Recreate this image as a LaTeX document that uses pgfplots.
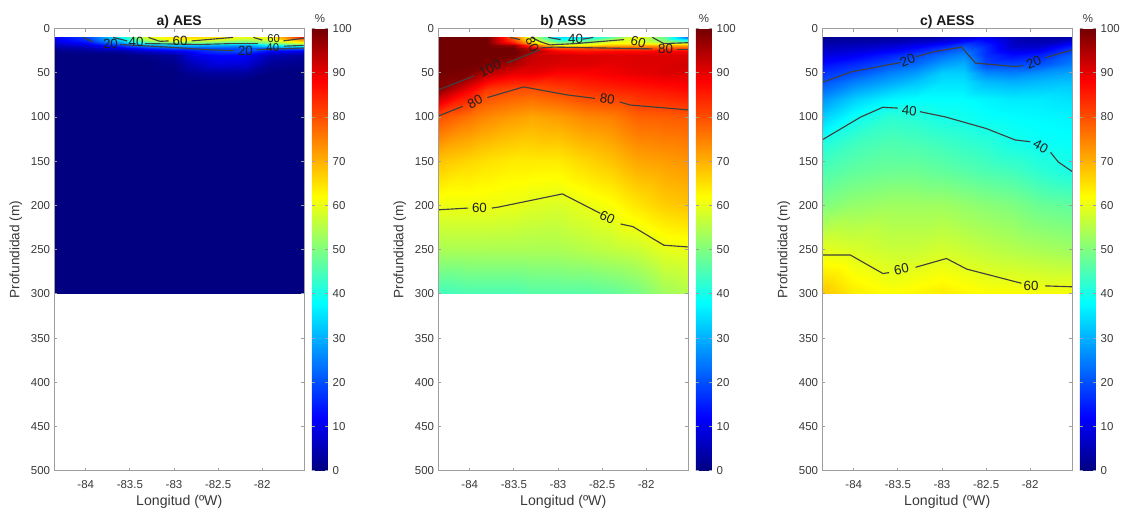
\documentclass[border=0pt]{standalone}
\usepackage{pgfplots}
\pgfplotsset{compat=1.18}
\usepackage{fontspec}
\setmainfont{Liberation Sans}
\definecolor{txt}{gray}{0.22}
\definecolor{frm}{gray}{0.62}
\tikzset{cl/.style={font=\fontsize{10}{11}\selectfont, text=black!88, inner sep=0pt}}
\pgfplotsset{
  colormap={jetx}{rgb(0pt)=(0,0,.5) rgb(12pt)=(0,0,1) rgb(38pt)=(0,1,1) rgb(62pt)=(1,1,0) rgb(88pt)=(1,0,0) rgb(100pt)=(.45,0,0)},
  panel/.style={
    scale only axis, width=187.9pt, height=331.65pt,
    xmin=-84.36, xmax=-81.52, ymin=0, ymax=500, y dir=reverse,
    xtick={-84,-83.5,-83,-82.5,-82}, xticklabels={-84,-83.5,-83,-82.5,-82},
    ytick={0,50,...,500},
    /pgf/number format/assume math mode=true,
    tick label style={font=\fontsize{8.6}{10}\selectfont, text=txt},
    xticklabel style={yshift=-3.6pt},
    yticklabel style={xshift=0.6pt},
    axis line style={draw=frm, line width=.7pt},
    every tick/.style={frm, line width=.6pt},
    major tick length=2.4pt,
    axis on top,
    point meta min=0, point meta max=100,
    xlabel={Longitud (ºW)}, ylabel={Profundidad (m)},
    every axis x label/.style={at={(axis description cs:0.5,-0.07)},anchor=center,font=\fontsize{10.6}{12}\selectfont,text=txt},
    every axis y label/.style={at={(axis description cs:-0.152,0.5)},anchor=center,rotate=90,font=\fontsize{10.2}{12}\selectfont,text=txt},
    every axis title/.style={at={(axis description cs:0.5,1.016)},anchor=center,font=\fontsize{10.5}{12}\selectfont\bfseries,text=black!90},
    colorbar,
    colorbar shift/.style={xshift=5.2pt},
    colorbar style={
      width=12pt, ytick={0,10,...,100}, yticklabel pos=right,
      ymin=0, ymax=100, y dir=normal,
      title={\%},
      every axis title/.style={at={(axis description cs:0.5,1.023)},anchor=center,font=\fontsize{8.6}{10}\selectfont,text=txt},
      axis line style={draw=none},
      every tick/.style={frm, line width=.6pt},
      major tick length=2.4pt,
      tick label style={font=\fontsize{8.6}{10}\selectfont, text=txt},
      /pgf/number format/assume math mode=true,
    },
  },
  ct/.style={no marks, line width=.85pt, draw=black!75, line join=round},
}
\begin{document}
\begin{tikzpicture}
\useasboundingbox (0,0) rectangle (842.25pt,383.25pt);

% ---------- a) AES
\begin{axis}[panel, at={(40.5pt,30.2pt)}, anchor=south west, title={a) AES}]
\addplot[surf, shader=interp, mesh/cols=10, point meta=explicit] coordinates {
(-84.36,10)[12] (-84,10)[18] (-83.6,10)[38] (-83.3,10)[60] (-83,10)[64] (-82.75,10)[66] (-82.5,10)[64] (-82.2,10)[60] (-81.9,10)[62] (-81.52,10)[88]
(-84.36,13)[10] (-84,13)[16] (-83.6,13)[34] (-83.3,13)[55] (-83,13)[62] (-82.75,13)[60] (-82.5,13)[58] (-82.2,13)[54] (-81.9,13)[58] (-81.52,13)[72]
(-84.36,16)[8] (-84,16)[12] (-83.6,16)[26] (-83.3,16)[42] (-83,16)[47] (-82.75,16)[48] (-82.5,16)[46] (-82.2,16)[44] (-81.9,16)[50] (-81.52,16)[60]
(-84.36,19)[6] (-84,19)[8] (-83.6,19)[18] (-83.3,19)[28] (-83,19)[32] (-82.75,19)[32] (-82.5,19)[30] (-82.2,19)[28] (-81.9,19)[38] (-81.52,19)[44]
(-84.36,22)[3] (-84,22)[4] (-83.6,22)[10] (-83.3,22)[16] (-83,22)[20] (-82.75,22)[20] (-82.5,22)[20] (-82.2,22)[20] (-81.9,22)[22] (-81.52,22)[22]
(-84.36,25)[1] (-84,25)[2] (-83.6,25)[3] (-83.3,25)[7] (-83,25)[10] (-82.75,25)[14] (-82.5,25)[18] (-82.2,25)[20] (-81.9,25)[12] (-81.52,25)[10]
(-84.36,30)[0] (-84,30)[0] (-83.6,30)[0] (-83.3,30)[1] (-83,30)[3] (-82.75,30)[10] (-82.5,30)[12] (-82.2,30)[12] (-81.9,30)[5] (-81.52,30)[3]
(-84.36,40)[0] (-84,40)[0] (-83.6,40)[0] (-83.3,40)[0] (-83,40)[1] (-82.75,40)[6] (-82.5,40)[9] (-82.2,40)[8] (-81.9,40)[2] (-81.52,40)[1]
(-84.36,50)[0] (-84,50)[0] (-83.6,50)[0] (-83.3,50)[0] (-83,50)[0] (-82.75,50)[2] (-82.5,50)[3] (-82.2,50)[3] (-81.9,50)[0] (-81.52,50)[0]
(-84.36,60)[0] (-84,60)[0] (-83.6,60)[0] (-83.3,60)[0] (-83,60)[0] (-82.75,60)[0] (-82.5,60)[0] (-82.2,60)[0] (-81.9,60)[0] (-81.52,60)[0]
(-84.36,300)[0] (-84,300)[0] (-83.6,300)[0] (-83.3,300)[0] (-83,300)[0] (-82.75,300)[0] (-82.5,300)[0] (-82.2,300)[0] (-81.9,300)[0] (-81.52,300)[0]
};
% 60
\addplot[ct] coordinates {(-83.29,10) (-83.16,14.5) (-83.06,14)};
\addplot[ct] coordinates {(-82.8,14) (-82.33,10)};
\addplot[ct] coordinates {(-82.1,10) (-82.0,13)};
\addplot[ct] coordinates {(-81.76,14) (-81.53,11)};
% 40
\addplot[ct] coordinates {(-83.69,10) (-83.53,14)};
\addplot[ct] coordinates {(-83.33,17) (-82.7,18) (-82.33,17) (-82.05,17)};
\addplot[ct] coordinates {(-81.75,20) (-81.53,19)};
% 20
\addplot[ct] coordinates {(-84.03,10) (-83.92,15)};
\addplot[ct] coordinates {(-83.61,18) (-83.07,21) (-82.6,24) (-82.32,25)};
\addplot[ct] coordinates {(-82.06,24) (-81.53,22)};
\node[cl] at (axis cs:-83.72,17) {20};
\node[cl] at (axis cs:-83.43,15) {40};
\node[cl] at (axis cs:-82.93,13.5) {60};
\node[cl] at (axis cs:-82.19,25) {20};
\node[cl,font=\fontsize{8.5}{10}\selectfont] at (axis cs:-81.87,11.5) {60};
\node[cl,font=\fontsize{8.5}{10}\selectfont] at (axis cs:-81.88,21) {40};
\end{axis}

% ---------- b) ASS
\begin{axis}[panel, at={(328.5pt,30.2pt)}, anchor=south west, title={b) ASS}]
\addplot[surf, shader=interp, mesh/cols=11, point meta=explicit] coordinates {
(-84.36,10)[100] (-84,10)[100] (-83.8,10)[100] (-83.5,10)[78] (-83.3,10)[58] (-83,10)[34] (-82.7,10)[36] (-82.4,10)[46] (-82.1,10)[62] (-81.8,10)[48] (-81.52,10)[22]
(-84.36,13)[100] (-84,13)[100] (-83.8,13)[100] (-83.5,13)[80] (-83.3,13)[62] (-83,13)[42] (-82.7,13)[45] (-82.4,13)[56] (-82.1,13)[60] (-81.8,13)[50] (-81.52,13)[38]
(-84.36,16)[100] (-84,16)[100] (-83.8,16)[100] (-83.5,16)[86] (-83.3,16)[68] (-83,16)[52] (-82.7,16)[55] (-82.4,16)[62] (-82.1,16)[62] (-81.8,16)[58] (-81.52,16)[57]
(-84.36,19)[100] (-84,19)[100] (-83.8,19)[100] (-83.5,19)[97] (-83.3,19)[80] (-83,19)[62] (-82.7,19)[63] (-82.4,19)[68] (-82.1,19)[70] (-81.8,19)[70] (-81.52,19)[70]
(-84.36,22)[100] (-84,22)[100] (-83.8,22)[100] (-83.5,22)[100] (-83.3,22)[92] (-83,22)[80] (-82.7,22)[80] (-82.4,22)[80] (-82.1,22)[80] (-81.8,22)[80] (-81.52,22)[80]
(-84.36,25)[100] (-84,25)[100] (-83.8,25)[100] (-83.5,25)[100] (-83.3,25)[96] (-83,25)[88] (-82.7,25)[86] (-82.4,25)[87] (-82.1,25)[87] (-81.8,25)[88] (-81.52,25)[88]
(-84.36,30)[100] (-84,30)[100] (-83.8,30)[100] (-83.5,30)[100] (-83.3,30)[93] (-83,30)[92] (-82.7,30)[91] (-82.4,30)[91] (-82.1,30)[91] (-81.8,30)[91] (-81.52,30)[91]
(-84.36,40)[100] (-84,40)[100] (-83.8,40)[99] (-83.5,40)[95] (-83.3,40)[92] (-83,40)[91] (-82.7,40)[91] (-82.4,40)[90] (-82.1,40)[91] (-81.8,40)[91] (-81.52,40)[92]
(-84.36,50)[100] (-84,50)[99] (-83.8,50)[94] (-83.5,50)[90] (-83.3,50)[90] (-83,50)[88] (-82.7,50)[88] (-82.4,50)[89] (-82.1,50)[90] (-81.8,50)[91] (-81.52,50)[91]
(-84.36,70)[98] (-84,70)[88] (-83.8,70)[82] (-83.5,70)[80] (-83.3,70)[79.5] (-83,70)[81] (-82.7,70)[83] (-82.4,70)[84] (-82.1,70)[85] (-81.8,70)[86] (-81.52,70)[87]
(-84.36,100)[80] (-84,100)[76] (-83.8,100)[74] (-83.5,100)[72] (-83.3,100)[71] (-83,100)[72] (-82.7,100)[74] (-82.4,100)[75] (-82.1,100)[78] (-81.8,100)[78.5] (-81.52,100)[79]
(-84.36,150)[68] (-84,150)[66] (-83.8,150)[65] (-83.5,150)[64] (-83.3,150)[64] (-83,150)[64] (-82.7,150)[66] (-82.4,150)[68] (-82.1,150)[71] (-81.8,150)[72] (-81.52,150)[73]
(-84.36,200)[60.5] (-84,200)[60.5] (-83.8,200)[60.5] (-83.5,200)[60] (-83.3,200)[59] (-83,200)[58.5] (-82.7,200)[60] (-82.4,200)[61.5] (-82.1,200)[64.5] (-81.8,200)[67] (-81.52,200)[68]
(-84.36,250)[54] (-84,250)[54] (-83.8,250)[54] (-83.5,250)[54] (-83.3,250)[54] (-83,250)[54] (-82.7,250)[55] (-82.4,250)[56] (-82.1,250)[57] (-81.8,250)[59.5] (-81.52,250)[60]
(-84.36,300)[44] (-84,300)[45] (-83.8,300)[45] (-83.5,300)[45] (-83.3,300)[46] (-83,300)[46] (-82.7,300)[46] (-82.4,300)[47] (-82.1,300)[49] (-81.8,300)[53] (-81.52,300)[55]
};
% 100
\addplot[ct] coordinates {(-84.36,69.5) (-83.95,53.5)};
\addplot[ct] coordinates {(-83.58,39) (-83.2,24)};
% 80 deep
\addplot[ct] coordinates {(-84.36,99) (-84.08,88)};
\addplot[ct] coordinates {(-83.8,78) (-83.39,66) (-82.9,75) (-82.58,79)};
\addplot[ct] coordinates {(-82.3,83) (-82.18,86.5) (-81.52,92)};
% 60 deep
\addplot[ct] coordinates {(-84.36,205) (-84.02,203)};
\addplot[ct] coordinates {(-83.75,203) (-83.68,202) (-82.95,187) (-82.52,209)};
\addplot[ct] coordinates {(-82.29,221) (-82.15,224) (-81.8,245) (-81.52,247)};
% upper
\addplot[ct] coordinates {(-83.54,10) (-83.43,12.5)};
\addplot[ct] coordinates {(-83.2,22) (-83.05,21) (-82.5,22) (-81.93,23)};
\addplot[ct] coordinates {(-81.65,23.5) (-81.52,23.5)};
\addplot[ct] coordinates {(-83.3,10) (-83.2,15) (-83.09,18.5) (-82.8,17) (-82.25,12.5)};
\addplot[ct] coordinates {(-81.93,10) (-81.8,17) (-81.52,16)};
\addplot[ct] coordinates {(-83.11,10) (-82.97,12.5)};
\addplot[ct] coordinates {(-82.72,12) (-82.6,10)};
\node[cl] at (axis cs:-83.94,83) [rotate=28] {80};
\node[cl] at (axis cs:-83.77,45) [rotate=25] {100};
\node[cl] at (axis cs:-82.44,80) [rotate=-8] {80};
\node[cl] at (axis cs:-83.89,203) {60};
\node[cl] at (axis cs:-82.44,214) [rotate=-25] {60};
\node[cl] at (axis cs:-83.29,18) [rotate=-65] {80};
\node[cl] at (axis cs:-82.8,12) {40};
\node[cl] at (axis cs:-82.09,15) [rotate=-15] {60};
\node[cl] at (axis cs:-81.78,23) {80};
\end{axis}

% ---------- c) AESS
\begin{axis}[panel, at={(616.5pt,30.2pt)}, anchor=south west, title={c) AESS}]
\addplot[surf, shader=interp, mesh/cols=10, point meta=explicit] coordinates {
(-84.36,10)[2] (-84,10)[2] (-83.6,10)[2] (-83.3,10)[3] (-83,10)[4] (-82.75,10)[7] (-82.5,10)[10] (-82.2,10)[5] (-81.9,10)[3] (-81.52,10)[4]
(-84.36,20)[5] (-84,20)[6] (-83.6,20)[8] (-83.3,20)[11] (-83,20)[15] (-82.75,20)[20] (-82.5,20)[16] (-82.2,20)[7] (-81.9,20)[7] (-81.52,20)[15]
(-84.36,30)[9] (-84,30)[11] (-83.6,30)[15] (-83.3,30)[19] (-83,30)[23] (-82.75,30)[26] (-82.5,30)[17] (-82.2,30)[13] (-81.9,30)[15] (-81.52,30)[22]
(-84.36,40)[13] (-84,40)[16] (-83.6,40)[20] (-83.3,40)[23] (-83,40)[28] (-82.75,40)[30] (-82.5,40)[19] (-82.2,40)[19] (-81.9,40)[20] (-81.52,40)[25]
(-84.36,50)[17] (-84,50)[20] (-83.6,50)[25] (-83.3,50)[28] (-83,50)[33] (-82.75,50)[33] (-82.5,50)[26] (-82.2,50)[25] (-81.9,50)[27] (-81.52,50)[29]
(-84.36,60)[20] (-84,60)[25] (-83.6,60)[29] (-83.3,60)[32] (-83,60)[35] (-82.75,60)[35] (-82.5,60)[31] (-82.2,60)[30] (-81.9,60)[31] (-81.52,60)[32]
(-84.36,80)[27] (-84,80)[33] (-83.6,80)[37] (-83.3,80)[38] (-83,80)[38] (-82.75,80)[38] (-82.5,80)[37] (-82.2,80)[36] (-81.9,80)[36] (-81.52,80)[35]
(-84.36,100)[33] (-84,100)[39] (-83.6,100)[42] (-83.3,100)[41.5] (-83,100)[40] (-82.75,100)[39.5] (-82.5,100)[38.5] (-82.2,100)[38] (-81.9,100)[37.5] (-81.52,100)[37]
(-84.36,130)[41] (-84,130)[44] (-83.6,130)[45.5] (-83.3,130)[45] (-83,130)[44] (-82.75,130)[43] (-82.5,130)[42] (-82.2,130)[40] (-81.9,130)[39] (-81.52,130)[38.5]
(-84.36,160)[45] (-84,160)[47] (-83.6,160)[48] (-83.3,160)[48] (-83,160)[47] (-82.75,160)[46] (-82.5,160)[45] (-82.2,160)[44] (-81.9,160)[42] (-81.52,160)[40]
(-84.36,200)[50] (-84,200)[52] (-83.6,200)[53] (-83.3,200)[53] (-83,200)[53] (-82.75,200)[52] (-82.5,200)[51] (-82.2,200)[50] (-81.9,200)[48] (-81.52,200)[47]
(-84.36,250)[59.5] (-84,250)[58.5] (-83.6,250)[57] (-83.3,250)[57] (-83,250)[58] (-82.75,250)[57] (-82.5,250)[56] (-82.2,250)[55] (-81.9,250)[54] (-81.52,250)[53]
(-84.36,300)[68] (-84,300)[64] (-83.6,300)[62] (-83.3,300)[63] (-83,300)[64] (-82.75,300)[63] (-82.5,300)[62] (-82.2,300)[62] (-81.9,300)[61.5] (-81.52,300)[61.5]
};
% 20
\addplot[ct] coordinates {(-84.36,61) (-84.03,49) (-83.61,41) (-83.47,38.5)};
\addplot[ct] coordinates {(-83.3,32) (-83.08,26) (-82.78,21) (-82.62,39) (-82.17,43) (-82.08,42)};
\addplot[ct] coordinates {(-81.83,33) (-81.52,24)};
% 40
\addplot[ct] coordinates {(-84.36,126) (-83.92,100) (-83.67,89) (-83.5,90)};
\addplot[ct] coordinates {(-83.25,94) (-82.96,100) (-82.5,113) (-82.17,126) (-82.0,128)};
\addplot[ct] coordinates {(-81.77,140) (-81.68,151) (-81.52,162)};
% 60
\addplot[ct] coordinates {(-84.36,256) (-84.04,256) (-83.67,277) (-83.6,276)};
\addplot[ct] coordinates {(-83.3,270) (-82.95,260) (-82.72,272) (-82.1,288)};
\addplot[ct] coordinates {(-81.83,291) (-81.52,292)};
\node[cl] at (axis cs:-83.39,36) [rotate=22] {20};
\node[cl] at (axis cs:-81.96,38) [rotate=22] {20};
\node[cl] at (axis cs:-83.37,93) [rotate=-5] {40};
\node[cl] at (axis cs:-81.88,133) [rotate=-30] {40};
\node[cl] at (axis cs:-83.46,272) [rotate=12] {60};
\node[cl] at (axis cs:-81.99,291) {60};
\end{axis}
\end{tikzpicture}
\end{document}
